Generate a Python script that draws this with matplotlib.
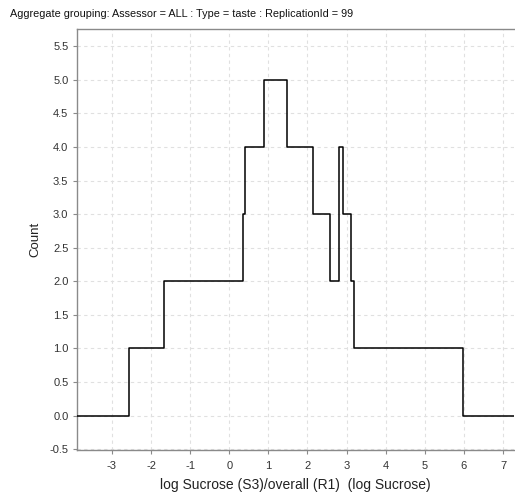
import matplotlib
matplotlib.use("Agg")
import matplotlib.pyplot as plt
import numpy as np

plt.rcParams['font.family'] = ['Liberation Sans', 'DejaVu Sans']

# step change points (x where count changes) and count after each point
x_points = [-4.5, -2.565, -1.67, 0.363, 0.40, 0.895, 1.476, 2.14, 2.58, 2.805, 2.90, 3.12, 3.18, 5.975, 8.0]
counts   = [0.0,   1.0,    2.0,   3.0,   4.0,  5.0,   4.0,   3.0,  2.0,  4.0,   3.0,  2.0,  1.0,  0.0,   0.0]

x_ticks = [-3, -2, -1, 0, 1, 2, 3, 4, 5, 6, 7]
y_ticks = [-0.5, 0.0, 0.5, 1.0, 1.5, 2.0, 2.5, 3.0, 3.5, 4.0, 4.5, 5.0, 5.5]

title = "Aggregate grouping: Assessor = ALL : Type = taste : ReplicationId = 99"
x_label = "log Sucrose (S3)/overall (R1)  (log Sucrose)"
y_label = "Count"

fig = plt.figure(figsize=(5.15, 4.94), dpi=100)
ax = fig.add_axes([0.149, 0.089, 0.849, 0.852])

ax.step(x_points, counts, where='post', color='black', linewidth=1.1, zorder=3)

ax.set_xlim(-3.9, 7.28)
ax.set_ylim(-0.514, 5.755)
ax.set_xticks(x_ticks)
ax.set_yticks(y_ticks)
ax.set_xticklabels([str(t) for t in x_ticks])
ax.set_yticklabels([f"{t:.1f}" for t in y_ticks])

ax.grid(True, color='#e0e0e0', linestyle=(0, (3, 3)), linewidth=0.8)
ax.set_axisbelow(True)

for s in ['left', 'bottom', 'top']:
    ax.spines[s].set_color('#8a8a8a')
    ax.spines[s].set_linewidth(1.0)
ax.spines['right'].set_visible(False)

ax.tick_params(axis='both', direction='out', length=3, width=0.8, color='#8a8a8a',
               labelsize=8, labelcolor='#333333')
ax.tick_params(axis='x', pad=5)
ax.tick_params(axis='y', pad=3)

ax.set_xlabel(x_label, fontsize=10, color='#222222', labelpad=5)
ax.set_ylabel(y_label, fontsize=9.5, color='#222222', labelpad=6)

fig.text(10/515, 1 - 14/494, title, fontsize=7.8, color='#111111', ha='left', va='center')

fig.savefig("out.png", dpi=100)
